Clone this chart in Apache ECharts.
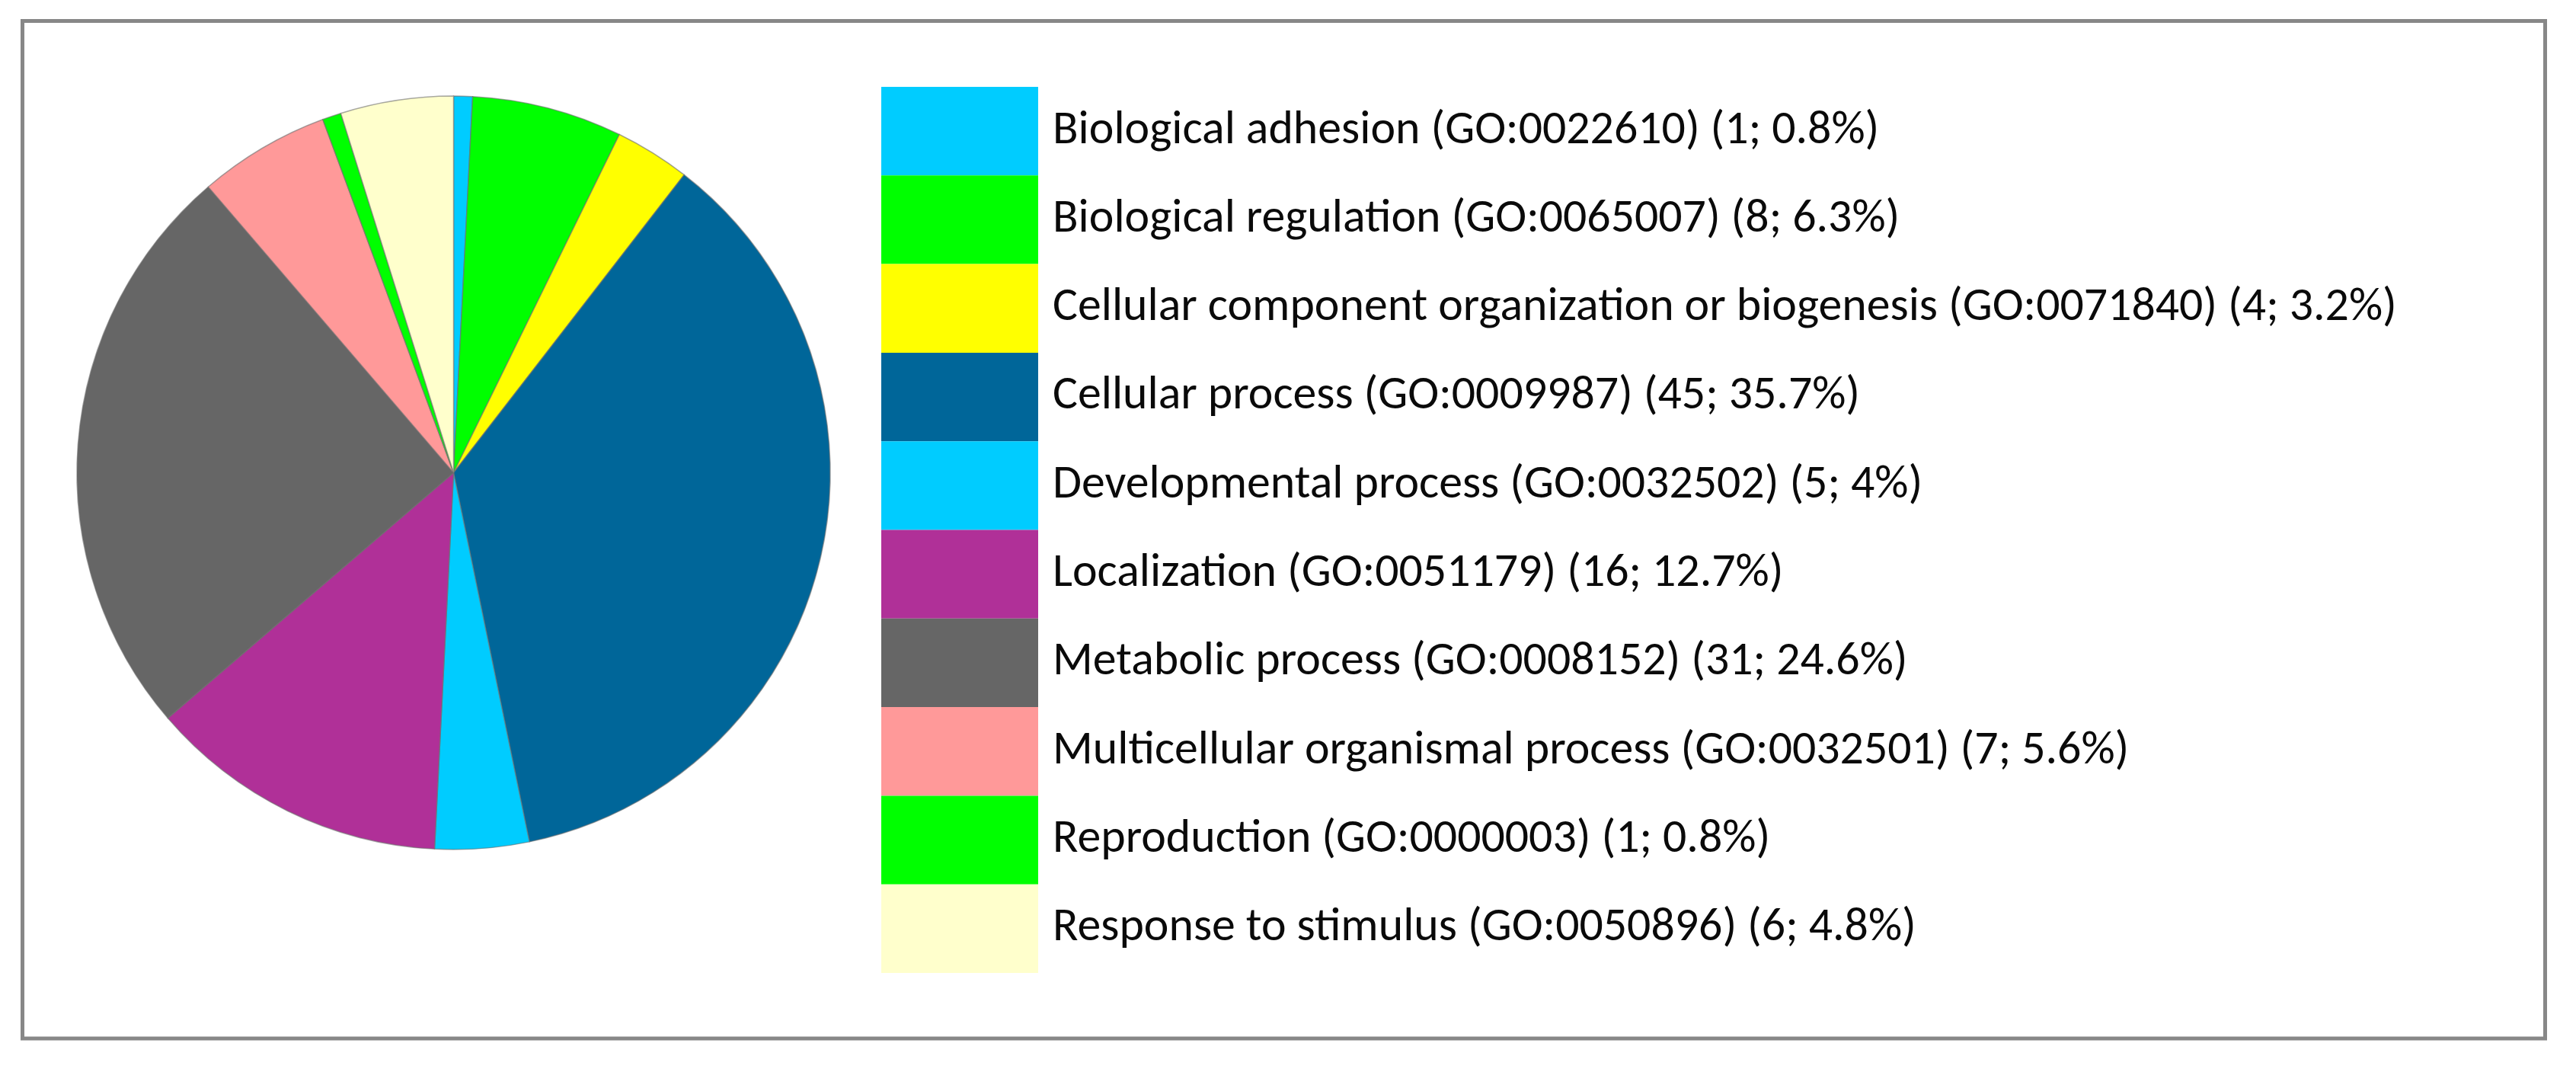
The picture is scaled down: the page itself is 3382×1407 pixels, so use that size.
<!DOCTYPE html>
<html>
<head>
<meta charset="utf-8">
<script src="https://cdn.jsdelivr.net/npm/echarts@6/dist/echarts.min.js"></script>
<style>
html,body{margin:0;padding:0;background:#fff;}
#chart{width:3382px;height:1407px;}
</style>
</head>
<body>
<div id="chart"></div>
<script>
const categories = [
  'Biological adhesion', 'Biological regulation', 'Cellular component organization or biogenesis',
  'Cellular process', 'Developmental process', 'Localization', 'Metabolic process',
  'Multicellular organismal process', 'Reproduction', 'Response to stimulus'
];
const goIds = ['GO:0022610','GO:0065007','GO:0071840','GO:0009987','GO:0032502','GO:0051179','GO:0008152','GO:0032501','GO:0000003','GO:0050896'];
const counts = [1, 8, 4, 45, 5, 16, 31, 7, 1, 6];
const percents = ['0.8%','6.3%','3.2%','35.7%','4%','12.7%','24.6%','5.6%','0.8%','4.8%'];
const colors = ['#00CCFF','#00FF00','#FFFF00','#006699','#00CCFF','#B03098','#666666','#FF9999','#00FF00','#FFFFCC'];

const labels = categories.map((c, i) => c + ' (' + goIds[i] + ') (' + counts[i] + '; ' + percents[i] + ')');

const FONT = 'Carlito, Lato, "Open Sans", "DejaVu Sans", sans-serif';
const ctx = document.createElement('canvas').getContext('2d');
ctx.font = '100px ' + FONT;
const w0 = ctx.measureText(labels[0]).width;
const fontSize = Math.round(100 * 1085 / w0 * 10) / 10;

const chart = echarts.init(document.getElementById('chart'), null, {renderer: 'canvas'});
chart.setOption({
  animation: false,
  backgroundColor: '#ffffff',
  color: colors,
  graphic: [{
    type: 'rect',
    shape: {x: 29.5, y: 27.5, width: 3312, height: 1335.5},
    style: {fill: 'none', stroke: '#878787', lineWidth: 5},
    silent: true
  }],
  legend: {
    orient: 'vertical',
    left: 1157,
    top: 114,
    padding: 0,
    itemWidth: 206,
    itemHeight: 116.3,
    itemGap: 0,
    icon: 'rect',
    selectedMode: false,
    itemStyle: {borderWidth: 0},
    textStyle: {
      fontFamily: FONT,
      fontSize: fontSize,
      color: '#0a0a0a',
      padding: [0, 0, 40, 14]
    },
    data: labels
  },
  series: [{
    type: 'pie',
    center: [595.5, 620.5],
    radius: 494.5,
    startAngle: 90,
    clockwise: true,
    label: {show: false},
    labelLine: {show: false},
    emphasis: {disabled: true},
    itemStyle: {borderColor: 'rgba(110,110,110,0.6)', borderWidth: 1.5},
    data: labels.map((l, i) => ({name: l, value: counts[i]}))
  }]
});
</script>
</body>
</html>
